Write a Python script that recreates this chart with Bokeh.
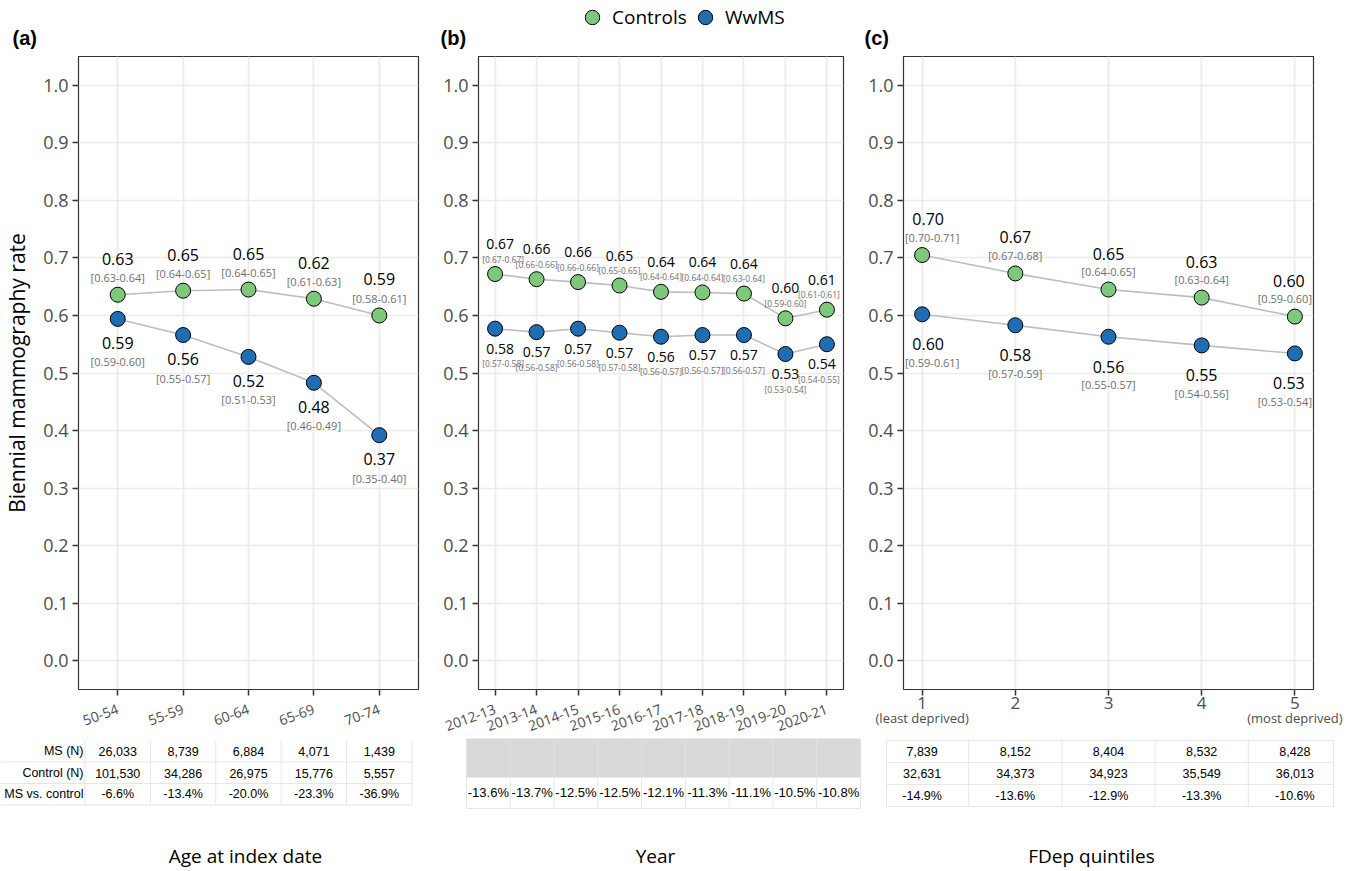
import math
from bokeh.plotting import figure
from bokeh.models import (ColumnDataSource, FixedTicker, Range1d, Legend, LinearAxis,
                          LegendItem, NumeralTickFormatter)
from bokeh.layouts import column, row
from bokeh.embed import file_html
from bokeh.resources import INLINE
from bokeh.core.properties import value

# ---------------- data ----------------
age_groups = ["50-54", "55-59", "60-64", "65-69", "70-74"]
age_controls = [0.636, 0.643, 0.645, 0.629, 0.600]
age_wwms = [0.594, 0.566, 0.528, 0.483, 0.392]
age_controls_lbl = ["0.63", "0.65", "0.65", "0.62", "0.59"]
age_controls_ci = ["[0.63-0.64]", "[0.64-0.65]", "[0.64-0.65]", "[0.61-0.63]", "[0.58-0.61]"]
age_wwms_lbl = ["0.59", "0.56", "0.52", "0.48", "0.37"]
age_wwms_ci = ["[0.59-0.60]", "[0.55-0.57]", "[0.51-0.53]", "[0.46-0.49]", "[0.35-0.40]"]
age_ms_n = ["26,033", "8,739", "6,884", "4,071", "1,439"]
age_control_n = ["101,530", "34,286", "26,975", "15,776", "5,557"]
age_diff = ["-6.6%", "-13.4%", "-20.0%", "-23.3%", "-36.9%"]

years = ["2012-13", "2013-14", "2014-15", "2015-16", "2016-17", "2017-18", "2018-19", "2019-20", "2020-21"]
year_controls = [0.672, 0.663, 0.658, 0.652, 0.641, 0.640, 0.638, 0.595, 0.610]
year_wwms = [0.577, 0.571, 0.577, 0.570, 0.563, 0.566, 0.566, 0.533, 0.550]
year_controls_lbl = ["0.67", "0.66", "0.66", "0.65", "0.64", "0.64", "0.64", "0.60", "0.61"]
year_controls_ci = ["[0.67-0.67]", "[0.66-0.66]", "[0.66-0.66]", "[0.65-0.65]", "[0.64-0.64]",
                    "[0.64-0.64]", "[0.63-0.64]", "[0.59-0.60]", "[0.61-0.61]"]
year_wwms_lbl = ["0.58", "0.57", "0.57", "0.57", "0.56", "0.57", "0.57", "0.53", "0.54"]
year_wwms_ci = ["[0.57-0.58]", "[0.56-0.58]", "[0.56-0.58]", "[0.57-0.58]", "[0.56-0.57]",
                "[0.56-0.57]", "[0.56-0.57]", "[0.53-0.54]", "[0.54-0.55]"]
year_diff = ["-13.6%", "-13.7%", "-12.5%", "-12.5%", "-12.1%", "-11.3%", "-11.1%", "-10.5%", "-10.8%"]

fdep = ["1", "2", "3", "4", "5"]
fdep_ends = ["(least deprived)", "(most deprived)"]
fdep_controls = [0.705, 0.673, 0.645, 0.631, 0.598]
fdep_wwms = [0.602, 0.583, 0.563, 0.548, 0.534]
fdep_controls_lbl = ["0.70", "0.67", "0.65", "0.63", "0.60"]
fdep_controls_ci = ["[0.70-0.71]", "[0.67-0.68]", "[0.64-0.65]", "[0.63-0.64]", "[0.59-0.60]"]
fdep_wwms_lbl = ["0.60", "0.58", "0.56", "0.55", "0.53"]
fdep_wwms_ci = ["[0.59-0.61]", "[0.57-0.59]", "[0.55-0.57]", "[0.54-0.56]", "[0.53-0.54]"]
fdep_ms_n = ["7,839", "8,152", "8,404", "8,532", "8,428"]
fdep_control_n = ["32,631", "34,373", "34,923", "35,549", "36,013"]
fdep_diff = ["-14.9%", "-13.6%", "-12.9%", "-13.3%", "-10.6%"]

series_names = ["Controls", "WwMS"]
panel_tags = ["(a)", "(b)", "(c)"]
x_titles = ["Age at index date", "Year", "FDep quintiles"]
row_names = ["MS (N)", "Control (N)", "MS vs. control"]
y_title = "Biennial mammography rate"

# ---------------- style / layout (screen px, page origin at 0,0) ----------------
GREEN = "#7dc87b"
BLUE = "#1f6db3"
LINE = "#bdbdbd"
FONT = "Open Sans"
TFONT = "Liberation Sans"
GRID_C = "#e6e6e6"
W = 1346
STRIP_BOT, FRAME_TOP, FRAME_BOT, PANEL_BOT, PAGE_BOT = 50, 56, 694, 738, 868

GEO = {
    "a": dict(left=0, right=429, fl=78, fr=418, x0=0.4, x1=5.6),
    "b": dict(left=429, right=854, fl=478, fr=843, x0=0.6, x1=9.4),
    "c": dict(left=854, right=1346, fl=903, fr=1313, x0=0.8, x1=5.2),
}
TGEO = {"a": (0, 429), "b": (429, 866), "c": (866, 1346)}
STY = {
    "a": dict(cv=36, cc=17, mv=24, mc=43, vs="16px", cs="11px", nv=0, nc=0),
    "b": dict(cv=30, cc=15, mv=20, mc=35, vs="14px", cs="8.5px", nv=5, nc=8),
    "c": dict(cv=36, cc=18, mv=30, mc=48, vs="16px", cs="11px", nv=6, nc=10),
}


def edge(n, d):
    out = [0] * n
    out[0] = d
    out[-1] = -d
    return out


def blank_fig(left, right, top, bottom, xr):
    f = figure(width=right - left, height=bottom - top, x_range=xr,
               y_range=Range1d(bottom, top), x_axis_type=None, y_axis_type=None,
               output_backend="svg", toolbar_location=None, title=None, min_border=0)
    f.outline_line_color = None
    f.background_fill_color = "white"
    f.border_fill_color = "white"
    return f


def style_axis(ax):
    ax.axis_line_color = None
    ax.major_tick_line_color = "#333333"
    ax.major_tick_line_width = 1.5
    ax.major_tick_out = 6
    ax.major_tick_in = 0
    ax.minor_tick_line_color = None
    ax.major_label_text_font = FONT
    ax.major_label_text_color = "#4d4d4d"


def make_panel(key, cats, ctrl, ms, c_lbl, c_ci, m_lbl, m_ci, rotate, ylabel=None):
    g, st = GEO[key], STY[key]
    n = len(cats)
    xs = list(range(1, n + 1))
    p = figure(width=g["right"] - g["left"], height=PANEL_BOT - STRIP_BOT,
               x_range=Range1d(g["x0"], g["x1"]), y_range=Range1d(-0.05, 1.05),
               output_backend="svg", toolbar_location=None, title=None,
               min_border_left=g["fl"] - g["left"], min_border_right=g["right"] - g["fr"],
               min_border_top=FRAME_TOP - STRIP_BOT, min_border_bottom=PANEL_BOT - FRAME_BOT)
    p.background_fill_color = "white"
    p.border_fill_color = "white"
    p.outline_line_color = "#333333"
    p.outline_line_width = 1.2
    xt = FixedTicker(ticks=xs)
    yt = FixedTicker(ticks=[round(0.1 * i, 1) for i in range(11)])
    xax, yax = p.xaxis[0], p.yaxis[0]
    xax.ticker = xt
    yax.ticker = yt
    p.xgrid.ticker = xt
    p.ygrid.ticker = yt
    p.grid.grid_line_color = "#ebebeb"
    p.grid.grid_line_width = 1.7
    xax.major_label_overrides = {x: c for x, c in zip(xs, cats)}
    yax.formatter = NumeralTickFormatter(format="0.0")
    style_axis(xax)
    style_axis(yax)
    yax.major_label_text_font_size = "18px"
    yax.major_label_standoff = 4
    if rotate:
        xax.major_label_orientation = math.radians(20)
        xax.major_label_text_font_size = "14px"
        xax.major_label_standoff = 13
    else:
        xax.major_label_text_font_size = "17px"
        xax.major_label_standoff = 1
    if ylabel:
        yax.axis_label = ylabel
        yax.axis_label_text_font = FONT
        yax.axis_label_text_font_size = "21px"
        yax.axis_label_text_font_style = "normal"
        yax.axis_label_text_color = "black"
        yax.axis_label_standoff = 9

    srcs = []
    for vals, lbl, ci in ((ctrl, c_lbl, c_ci), (ms, m_lbl, m_ci)):
        src = ColumnDataSource(dict(x=xs, y=vals, lbl=lbl, ci=ci,
                                    dv=edge(n, st["nv"]), dc=edge(n, st["nc"])))
        srcs.append(src)
        p.line("x", "y", source=src, line_color=LINE, line_width=1.6)
    for src, col in zip(srcs, (GREEN, BLUE)):
        p.scatter("x", "y", source=src, size=15, fill_color=col, line_color="black", line_width=1)
    for src, (ov, oc) in zip(srcs, ((-st["cv"], -st["cc"]), (st["mv"], st["mc"]))):
        p.text("x", "y", text="lbl", source=src, x_offset="dv", y_offset=ov,
               text_align="center", text_baseline="middle", text_color="black",
               text_font=value(FONT), text_font_size=st["vs"])
        p.text("x", "y", text="ci", source=src, x_offset="dc", y_offset=oc,
               text_align="center", text_baseline="middle", text_color="#6e6e6e",
               text_font=value(FONT), text_font_size=st["cs"])
    return p


# ---------------- top strip (panel tags + legend) ----------------
strip = blank_fig(0, W, 0, STRIP_BOT, Range1d(0, W))
strip.text(x=[12, 440, 864], y=[37, 37, 37], text=panel_tags, text_align="left",
           text_baseline="middle", text_font=value(TFONT), text_font_style="bold",
           text_font_size="20px", text_color="black")
leg_src = ColumnDataSource(dict(x=[float("nan")], y=[float("nan")]))
lr = [strip.scatter("x", "y", source=leg_src, size=15, fill_color=c, line_color="black", line_width=1)
      for c in (GREEN, BLUE)]
legend = Legend(items=[LegendItem(label=nm, renderers=[r]) for nm, r in zip(series_names, lr)],
                location=(574, STRIP_BOT - 35), orientation="horizontal",
                glyph_width=36, glyph_height=36, label_standoff=2, spacing=0, padding=0,
                margin=0, border_line_color=None, background_fill_alpha=0,
                label_text_font=FONT, label_text_font_size="19px", label_text_color="black")
strip.add_layout(legend, "center")

# ---------------- panels ----------------
pa = make_panel("a", age_groups, age_controls, age_wwms, age_controls_lbl, age_controls_ci,
                age_wwms_lbl, age_wwms_ci, True, y_title)
pb = make_panel("b", years, year_controls, year_wwms, year_controls_lbl, year_controls_ci,
                year_wwms_lbl, year_wwms_ci, True)
pc = make_panel("c", fdep, fdep_controls, fdep_wwms, fdep_controls_lbl, fdep_controls_ci,
                fdep_wwms_lbl, fdep_wwms_ci, False)

# second x-axis line for the quintile end descriptions
sub_ax = LinearAxis(ticker=FixedTicker(ticks=[1, len(fdep)]),
                    major_label_overrides={1: fdep_ends[0], len(fdep): fdep_ends[1]})
sub_ax.axis_line_color = None
sub_ax.major_tick_line_color = None
sub_ax.minor_tick_line_color = None
sub_ax.major_tick_out = 0
sub_ax.major_label_standoff = -3
sub_ax.major_label_text_font = FONT
sub_ax.major_label_text_font_size = "13px"
sub_ax.major_label_text_color = "#4d4d4d"
pc.add_layout(sub_ax, "below")


# ---------------- tables ----------------
def table_fig(key, ux0, px0, ppu):
    left, right = TGEO[key]
    xr = Range1d(ux0 + (left - px0) / ppu, ux0 + (right - px0) / ppu)
    t = blank_fig(left, right, PANEL_BOT, PAGE_BOT, xr)

    def px(page_x):
        return ux0 + (page_x - px0) / ppu
    return t, px


def panel_ppu(k):
    g = GEO[k]
    return (g["fr"] - g["fl"]) / (g["x1"] - g["x0"])


def xtitle(t, x, txt):
    t.text(x=[x], y=[855], text=[txt], text_align="center", text_baseline="middle",
           text_font=value(FONT), text_font_size="19px", text_color="black")


# table a
ga = GEO["a"]
ta, pxa = table_fig("a", ga["x0"], ga["fl"], panel_ppu("a"))
xa = list(range(1, len(age_groups) + 1))
hy = [761.5, 783, 804.5]
ta.segment(x0=[pxa(0)] * 3, x1=[len(xa) + 0.5] * 3, y0=hy, y1=hy, line_color=GRID_C, line_width=1)
va = [i + 0.5 for i in range(0, len(xa) + 1)]
ta.segment(x0=va, x1=va, y0=[740] * len(va), y1=[804.5] * len(va), line_color=GRID_C, line_width=1)
for yy, name, vals in zip([750.5, 772.5, 793.5], row_names, (age_ms_n, age_control_n, age_diff)):
    ta.text(x=[pxa(83)], y=[yy], text=[name], text_align="right", text_baseline="middle",
            text_font=value(TFONT), text_font_size="12.5px", text_color="black")
    ta.text(x=xa, y=[yy] * len(xa), text=vals, text_align="center", text_baseline="middle",
            text_font=value(TFONT), text_font_size="12.5px", text_color="black")
xtitle(ta, pxa(245), x_titles[0])

# table b (own column grid)
tb_ppu = (860 - 466) / len(years)
tb, pxb = table_fig("b", 0.5, 466, tb_ppu)
xb = list(range(1, len(years) + 1))
tb.quad(left=[0.5], right=[len(years) + 0.5], top=[735], bottom=[777],
        fill_color="#d9d9d9", line_color=None)
vb = [i + 0.5 for i in range(0, len(years) + 1)]
tb.segment(x0=vb, x1=vb, y0=[735] * len(vb), y1=[777] * len(vb), line_color="#e2e2e2", line_width=1)
tb.segment(x0=vb, x1=vb, y0=[777] * len(vb), y1=[808] * len(vb), line_color=GRID_C, line_width=1)
tb.segment(x0=[0.5], x1=[len(years) + 0.5], y0=[808], y1=[808], line_color=GRID_C, line_width=1)
tb.text(x=xb, y=[792] * len(xb), text=year_diff, text_align="center", text_baseline="middle",
        text_font=value(TFONT), text_font_size="13px", text_color="black")
xtitle(tb, pxb(655), x_titles[1])

# table c
gc = GEO["c"]
tc, pxc = table_fig("c", gc["x0"], gc["fl"], panel_ppu("c"))
xc = list(range(1, len(fdep) + 1))
hc = [740, 762, 784, 806]
tc.segment(x0=[pxc(886)] * 4, x1=[pxc(1333)] * 4, y0=hc, y1=hc, line_color=GRID_C, line_width=1)
vc = [pxc(886)] + [i + 0.5 for i in range(1, len(fdep))] + [pxc(1333)]
tc.segment(x0=vc, x1=vc, y0=[740] * len(vc), y1=[806] * len(vc), line_color=GRID_C, line_width=1)
for yy, vals in zip([751, 773, 795], (fdep_ms_n, fdep_control_n, fdep_diff)):
    tc.text(x=xc, y=[yy] * len(xc), text=vals, text_align="center", text_baseline="middle",
            text_font=value(TFONT), text_font_size="12.5px", text_color="black")
xtitle(tc, pxc(1091), x_titles[2])

layout = column(strip, row(pa, pb, pc, spacing=0), row(ta, tb, tc, spacing=0), spacing=0)
open("out.html", "w").write(file_html(layout, INLINE))
